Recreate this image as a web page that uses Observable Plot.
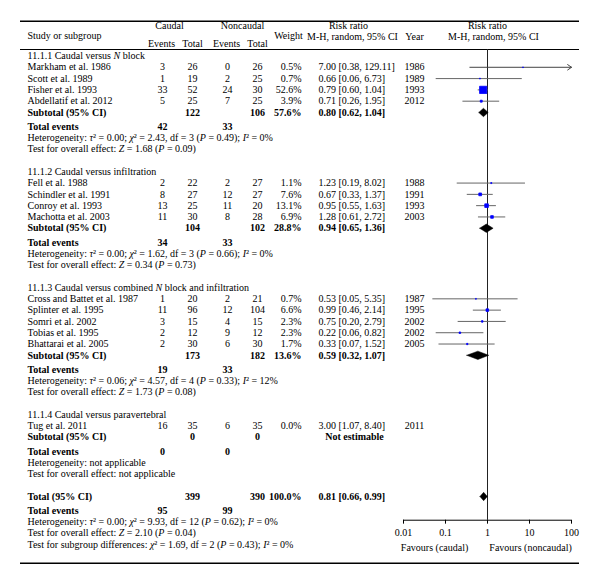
<!DOCTYPE html>
<html>
<head>
<meta charset="utf-8">
<script src="https://cdn.jsdelivr.net/npm/d3@7"></script>
<script src="https://cdn.jsdelivr.net/npm/@observablehq/plot@0.6"></script>
<style>
  html, body { margin: 0; padding: 0; background: #fff; }
  #chart { width: 600px; height: 584px; }
</style>
</head>
<body>
<div id="chart"></div>
<script>
// ---------- DATA ----------
const groupTitles = [
  "11.1.1 Caudal versus *N* block",
  "11.1.2 Caudal versus infiltration",
  "11.1.3 Caudal versus combined *N* block and infiltration",
  "11.1.4 Caudal versus paravertebral"
];
const studyNames = [
  "Markham et al. 1986", "Scott et al. 1989", "Fisher et al. 1993", "Abdellatif et al. 2012",
  "Fell et al. 1988", "Schindler et al. 1991", "Conroy et al. 1993", "Machotta et al. 2003",
  "Cross and Battet et al. 1987", "Splinter et al. 1995", "Somri et al. 2002", "Tobias et al. 1995", "Bhattarai et al. 2005",
  "Tug et al. 2011"
];
const studyGroup    = [0,0,0,0, 1,1,1,1, 2,2,2,2,2, 3];
const caudalEvents  = [3,1,33,5, 2,8,13,11, 1,11,3,2,2, 16];
const caudalTotal   = [26,19,52,25, 22,27,25,30, 20,96,15,12,30, 35];
const noncaudEvents = [0,2,24,7, 2,12,11,8, 2,12,4,9,6, 6];
const noncaudTotal  = [26,25,30,25, 27,27,20,28, 21,104,15,12,30, 35];
const studyWeight   = [0.5,0.7,52.6,3.9, 1.1,7.6,13.1,6.9, 0.7,6.6,2.3,2.3,1.7, 0.0];
const studyRR       = [7.00,0.66,0.79,0.71, 1.23,0.67,0.95,1.28, 0.53,0.99,0.75,0.22,0.33, 3.00];
const studyLo       = [0.38,0.06,0.60,0.26, 0.19,0.33,0.55,0.61, 0.05,0.46,0.20,0.06,0.07, 1.07];
const studyHi       = [129.11,6.73,1.04,1.95, 8.02,1.37,1.63,2.72, 5.35,2.14,2.79,0.82,1.52, 8.40];
const studyYear     = ["1986","1989","1993","2012", "1988","1991","1993","2003", "1987","1995","2002","2002","2005", "2011"];

const subCaudalTotal  = [122,104,173,0];
const subNoncaudTotal = [106,102,182,0];
const subWeight       = [57.6,28.8,13.6,null];
const subRR           = [0.80,0.94,0.59,null];
const subLo           = [0.62,0.65,0.32,null];
const subHi           = [1.04,1.36,1.07,null];
const subCaudalEvents = [42,34,19,0];
const subNoncaudEvents= [33,33,33,0];
const subHeterogeneity = [
  "Heterogeneity: *τ*² = 0.00; *χ*² = 2.43, df = 3 (*P* = 0.49); *I*² = 0%",
  "Heterogeneity: *τ*² = 0.00; *χ*² = 1.62, df = 3 (*P* = 0.66); *I*² = 0%",
  "Heterogeneity: *τ*² = 0.06; *χ*² = 4.57, df = 4 (*P* = 0.33); *I*² = 12%",
  "Heterogeneity: not applicable"
];
const subOverall = [
  "Test for overall effect: *Z* = 1.68 (*P* = 0.09)",
  "Test for overall effect: *Z* = 0.34 (*P* = 0.73)",
  "Test for overall effect: *Z* = 1.73 (*P* = 0.08)",
  "Test for overall effect: not applicable"
];
const totalCaudal = 399, totalNoncaud = 390, totalWeight = 100.0;
const totalRR = 0.81, totalLo = 0.66, totalHi = 0.99;
const totalCaudalEvents = 95, totalNoncaudEvents = 99;
const totalNotes = [
  "Heterogeneity: *τ*² = 0.00; *χ*² = 9.93, df = 12 (*P* = 0.62); *I*² = 0%",
  "Test for overall effect: *Z* = 2.10 (*P* = 0.04)",
  "Test for subgroup differences: *χ*² = 1.69, df = 2 (*P* = 0.43); *I*² = 0%"
];
const axisTicks = [0.01, 0.1, 1, 10, 100];
const axisTickLabels = ["0.01", "0.1", "1", "10", "100"];
const favoursLabels = ["Favours (caudal)", "Favours (noncaudal)"];

// ---------- LAYOUT (row units) ----------
const fmtRR = (m, l, h) => `${m.toFixed(2)} [${l.toFixed(2)}, ${h.toFixed(2)}]`;
const fmtW = w => w.toFixed(1) + "%";
const rows = [];
const studies = [];
const diamonds = [];
let r = 0;
groupTitles.forEach((title, g) => {
  rows.push({y: r, label: title, bold: false});
  studyNames.forEach((name, i) => {
    if (studyGroup[i] !== g) return;
    r += 1;
    rows.push({
      y: r, label: name, bold: false,
      cE: caudalEvents[i], cT: caudalTotal[i], nE: noncaudEvents[i], nT: noncaudTotal[i],
      w: fmtW(studyWeight[i]), rr: fmtRR(studyRR[i], studyLo[i], studyHi[i]), year: studyYear[i]
    });
    studies.push({y: r, est: studyRR[i], lo: studyLo[i], hi: studyHi[i], weight: studyWeight[i]});
  });
  r += 1;
  if (subRR[g] != null) {
    rows.push({y: r, label: "Subtotal (95% CI)", bold: true, cT: subCaudalTotal[g], nT: subNoncaudTotal[g],
      w: fmtW(subWeight[g]), rr: fmtRR(subRR[g], subLo[g], subHi[g])});
    diamonds.push({id: g, y: r, est: subRR[g], lo: subLo[g], hi: subHi[g]});
  } else {
    rows.push({y: r, label: "Subtotal (95% CI)", bold: true, cT: subCaudalTotal[g], nT: subNoncaudTotal[g],
      rrC: "Not estimable"});
  }
  r += 1.25;
  rows.push({y: r, label: "Total events", bold: true, cE: subCaudalEvents[g], nE: subNoncaudEvents[g]});
  r += 1;
  rows.push({y: r, label: subHeterogeneity[g], bold: false});
  r += 1;
  rows.push({y: r, label: subOverall[g], bold: false});
  r += 2;
});
rows.push({y: r, label: "Total (95% CI)", bold: true, cT: totalCaudal, nT: totalNoncaud,
  w: fmtW(totalWeight), rr: fmtRR(totalRR, totalLo, totalHi)});
diamonds.push({id: "total", y: r, est: totalRR, lo: totalLo, hi: totalHi});
r += 1.25;
rows.push({y: r, label: "Total events", bold: true, cE: totalCaudalEvents, nE: totalNoncaudEvents});
totalNotes.forEach(n => { r += 1; rows.push({y: r, label: n, bold: false}); });
const lastRow = r;

const diamondPts = [];
const dh = 0.37;
diamonds.forEach(d => {
  diamondPts.push({id: d.id, x: d.lo, y: d.y});
  diamondPts.push({id: d.id, x: d.est, y: d.y - dh});
  diamondPts.push({id: d.id, x: d.hi, y: d.y});
  diamondPts.push({id: d.id, x: d.est, y: d.y + dh});
  diamondPts.push({id: d.id, x: d.lo, y: d.y});
});

const drawn = studies.filter(s => s.weight > 0);
const xMax = 100;
const inRange = drawn.filter(s => s.hi <= xMax);
const overRange = drawn.filter(s => s.hi > xMax);

// header / frame rows
const yTopRule = -3.08, yHeadA = -2.65, yHeadB = -1.72, yHeadMid = -1.77, yHeadC = -1.11,
      yHeadRule = -0.575, yAxis = 41.1, yTickEnd = 41.45, yTickLbl = 42.17, yFav = 43.5, yBottomRule = 44.9;

const ML = 20;
function col(field, xpos, anchor, extra = {}) {
  const base = {y: "y", text: field, frameAnchor: "left", dx: xpos - ML, textAnchor: anchor, fill: "black", ...extra};
  return [
    Plot.text(rows.filter(d => d[field] != null && !d.bold), base),
    Plot.text(rows.filter(d => d[field] != null && d.bold), {...base, fontWeight: "bold"})
  ];
}
function hdr(text, xpos, y, anchor = "middle") {
  return Plot.text([text], {y: () => y, text: d => d, frameAnchor: "left", dx: xpos - ML, textAnchor: anchor, fill: "black"});
}

const chart = Plot.plot({
  width: 600,
  height: 584,
  marginLeft: ML, marginRight: 21, marginTop: 0, marginBottom: 0,
  style: {fontFamily: "'Liberation Serif', 'Times New Roman', serif", fontSize: "10px", background: "white", color: "black"},
  x: {type: "log", domain: [0.01, 100], range: [403, 571], axis: null},
  y: {type: "linear", domain: [0, lastRow], range: [55.5, 544], axis: null},
  r: {type: "sqrt", domain: [0, 52.6], range: [0, 4.1]},
  marks: [
    // table rules
    Plot.ruleY([yTopRule], {stroke: "black", strokeWidth: 1.5}),
    Plot.ruleY([yHeadRule], {stroke: "black", strokeWidth: 1}),
    Plot.ruleY([yBottomRule], {stroke: "black", strokeWidth: 1.5}),
    // headers
    hdr("Study or subgroup", 27, yHeadMid, "start"),
    hdr("Caudal", 169, yHeadA),
    hdr("Noncaudal", 242, yHeadA),
    hdr("Events", 161, yHeadC), hdr("Total", 192, yHeadC),
    hdr("Events", 226, yHeadC), hdr("Total", 257, yHeadC),
    hdr("Weight", 288, yHeadMid),
    hdr("Risk ratio", 348, yHeadA),
    hdr("M-H, random, 95% CI", 352, yHeadB),
    hdr("Year", 414, yHeadB),
    hdr("Risk ratio", 487, yHeadA),
    hdr("M-H, random, 95% CI", 493, yHeadB),
    // table columns
    ...col("label", 27, "start"),
    ...col("cE", 162, "middle"),
    ...col("cT", 192, "middle"),
    ...col("nE", 227, "middle"),
    ...col("nT", 257, "middle"),
    ...col("w", 301, "end"),
    ...col("rr", 318, "start"),
    ...col("rrC", 354, "middle"),
    ...col("year", 414, "middle"),
    // forest plot
    Plot.ruleX([1], {y1: yHeadRule, y2: yAxis, stroke: "#222", strokeWidth: 1}),
    Plot.ruleY(inRange, {y: "y", x1: "lo", x2: "hi", stroke: "#666", strokeWidth: 1}),
    Plot.arrow(overRange, {x1: "lo", y1: "y", x2: d => Math.min(d.hi, xMax), y2: "y",
      stroke: "#444", strokeWidth: 1, headLength: 7, headAngle: 70}),
    Plot.dot(drawn, {x: "est", y: "y", r: "weight", symbol: "square", fill: "#0000ff", stroke: "#0000ff", strokeWidth: 0.8}),
    Plot.line(diamondPts, {x: "x", y: "y", z: "id", fill: "black", stroke: "black", strokeWidth: 0.5}),
    // axis
    Plot.ruleY([yAxis], {x1: 0.01, x2: 100, stroke: "black", strokeWidth: 1}),
    Plot.ruleX(axisTicks, {x: d => d, y1: yAxis, y2: yTickEnd, stroke: "black", strokeWidth: 1}),
    Plot.text(axisTicks, {x: d => d, y: () => yTickLbl, text: (d, i) => axisTickLabels[i], fill: "black"}),
    Plot.text(favoursLabels, {x: (d, i) => [0.055, 10.6][i], y: () => yFav, text: d => d, fill: "black"})
  ]
});

// italic markup *...* -> tspans
chart.querySelectorAll("text").forEach(t => {
  const s = t.textContent;
  if (!s.includes("*")) return;
  t.textContent = "";
  s.split("*").forEach((part, i) => {
    if (!part) return;
    const ts = document.createElementNS("http://www.w3.org/2000/svg", "tspan");
    ts.textContent = part;
    if (i % 2) ts.setAttribute("font-style", "italic");
    t.appendChild(ts);
  });
});

document.getElementById("chart").appendChild(chart);
</script>
</body>
</html>
